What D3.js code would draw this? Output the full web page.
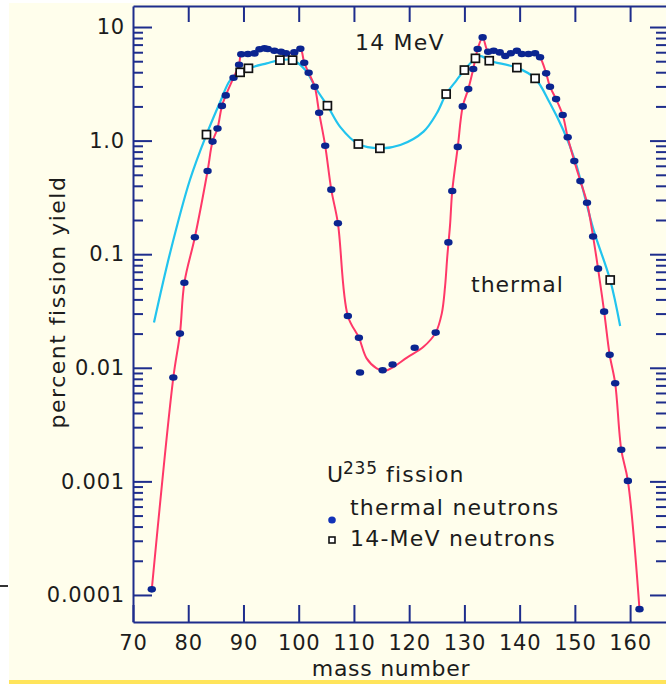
<!DOCTYPE html>
<html><head><meta charset="utf-8">
<script src="https://cdn.jsdelivr.net/npm/d3@7"></script>
<style>
html,body{margin:0;padding:0;background:#fff;}
svg{display:block;}
text{font-family:"DejaVu Sans",sans-serif;fill:#1c1c1c;}
</style></head><body>
<svg id="c" width="666" height="684"></svg>
<script>
// ---- data ----
const thermalMass = [73.4,77.3,78.5,79.3,81.2,83.5,84.4,85.3,86.1,86.8,88.2,89.2,89.6,90.8,92.0,92.9,93.8,94.4,95.6,96.8,97.7,99.2,100.3,101.0,101.8,102.9,103.7,104.8,105.9,107.1,108.9,110.9,111.1,115.2,117.0,121.0,124.8,127.1,127.8,128.8,129.7,130.7,131.6,132.4,133.3,134.3,135.3,136.4,137.4,138.4,139.5,140.4,141.6,142.8,143.7,144.8,145.5,146.6,147.8,148.7,149.9,151.0,152.2,153.3,154.2,155.3,156.3,157.3,158.4,159.6,161.7];
const thermalYield = [1.12e-4,0.0082,0.020,0.056,0.141,0.54,0.98,1.28,2.02,2.5,3.58,4.66,5.75,5.78,5.86,6.37,6.49,6.40,6.18,6.06,5.86,5.98,6.44,4.85,3.96,2.98,1.76,0.90,0.37,0.187,0.0286,0.0184,0.0091,0.0095,0.0107,0.015,0.0204,0.127,0.36,0.88,2.0,2.84,4.27,6.4,8.1,6.06,6.18,5.98,5.56,5.87,6.18,5.78,5.78,5.87,5.41,3.91,2.98,2.32,1.68,1.07,0.66,0.44,0.284,0.143,0.0746,0.0312,0.013,0.0073,0.0019,0.00101,7.5e-5];

const mevMass = [83.3,89.4,90.9,96.6,98.9,105.2,110.8,114.7,126.7,130.0,132.0,134.5,139.5,142.8,156.4];
const mevYield = [1.13,3.99,4.33,5.11,5.11,2.03,0.933,0.855,2.57,4.18,5.3,5.05,4.39,3.53,0.0593];

// fitted curves
const thermalFitMass = [73.4,77.3,78.5,79.3,81.2,83.5,84.4,85.3,86.1,86.8,88.2,89.2,89.6,90.8,92.0,92.9,93.8,94.4,95.6,96.8,97.7,99.2,100.3,101.0,101.8,102.9,103.7,104.8,105.9,107.1,108.9,110.9,112.3,114.1,115.6,117.2,119.6,122.6,124.8,125.9,126.5,126.9,127.4,127.8,128.8,129.7,130.7,131.6,132.4,133.3,134.3,135.3,136.4,137.4,138.4,139.5,140.4,141.6,142.8,143.7,144.8,145.5,146.6,147.8,148.7,149.9,151.0,152.2,153.3,154.2,155.3,156.3,157.3,158.4,159.6,161.7];
const thermalFitYield = [1.12e-4,0.0082,0.020,0.056,0.141,0.54,0.98,1.28,2.02,2.5,3.58,4.66,5.75,5.78,5.86,6.37,6.49,6.40,6.18,6.06,5.86,5.98,6.44,4.85,3.96,2.98,1.76,0.90,0.37,0.187,0.0286,0.0184,0.0121,0.0099,0.0094,0.0102,0.0123,0.0153,0.0204,0.030,0.052,0.095,0.18,0.36,0.88,2.0,2.84,4.27,6.4,8.1,6.06,6.18,5.98,5.56,5.87,6.18,5.78,5.78,5.87,5.41,3.91,2.98,2.32,1.68,1.07,0.66,0.44,0.284,0.143,0.0746,0.0312,0.013,0.0073,0.0019,0.00101,7.5e-5];

const mevFitMass = [73.8,76.7,80.3,83.3,85.8,87.6,89.4,90.9,94.2,96.6,98.9,101.2,103.3,105.2,107.5,110.8,114.7,118.4,122.6,125.0,126.7,128.6,130.0,132.0,133.0,134.5,139.5,142.8,145.5,147.9,150.0,153.4,156.4,158.2];
const mevFitYield = [0.025,0.102,0.45,1.13,2.2,3.41,3.99,4.33,4.79,5.11,5.11,4.18,2.79,2.03,1.32,0.933,0.855,0.914,1.2,1.74,2.57,3.41,4.18,5.3,5.55,5.05,4.39,3.53,2.13,1.24,0.675,0.163,0.059,0.0233];

const xTicks = [70,80,90,100,110,120,130,140,150,160];
const yTicks = [10,1,0.1,0.01,0.001,0.0001];
const yTickLabels = ["10","1.0","0.1","0.01","0.001","0.0001"];

// ---- drawing ----
const svg = d3.select("#c");
const AX = "#1e2d8c";
svg.append("rect").attr("x",9).attr("y",3).attr("width",657).attr("height",677).attr("fill","#fffeec");
svg.append("rect").attr("x",9).attr("y",680).attr("width",657).attr("height",4).attr("fill","#ffe45a");
svg.append("line").attr("x1",0).attr("x2",8).attr("y1",586).attr("y2",586).attr("stroke","#333").attr("stroke-width",2);

const x = d3.scaleLinear().domain([70,166.5]).range([133,666]);
const y = d3.scaleLog().domain([Math.pow(10,-4.238), Math.pow(10,1.185)]).range([622,6]);

const minorVals = [];
for (let e=-4;e<=0;e++) for (let k=2;k<=9;k++) minorVals.push(k*Math.pow(10,e));

function styleAxis(g){
  g.selectAll("path.domain").attr("stroke",AX).attr("stroke-width",2);
  g.selectAll(".tick line").attr("stroke",AX).attr("stroke-width",2);
  g.selectAll(".tick text").attr("fill","#1c1c1c").style("font-family","'DejaVu Sans',sans-serif").style("font-size","21px").style("letter-spacing","0.8px");
}

// bottom
const gB = svg.append("g").attr("transform","translate(0,622)")
  .call(d3.axisBottom(x).tickValues(xTicks).tickSizeInner(-17).tickSizeOuter(0).tickPadding(13).tickFormat(d3.format("d")));
styleAxis(gB);
// top
const gT = svg.append("g").attr("transform","translate(0,6)")
  .call(d3.axisTop(x).tickValues(xTicks.slice(1)).tickSizeInner(-16).tickSizeOuter(0).tickFormat(""));
styleAxis(gT);
// left majors
const gL = svg.append("g").attr("transform","translate(133,0)")
  .call(d3.axisLeft(y).tickValues(yTicks).tickSizeInner(-19).tickSizeOuter(0).tickPadding(8).tickFormat((d,i)=>yTickLabels[i]));
styleAxis(gL);
const gLm = svg.append("g").attr("transform","translate(133,0)")
  .call(d3.axisLeft(y).tickValues(minorVals).tickSizeInner(-10).tickSizeOuter(0).tickFormat(""));
gLm.select("path.domain").remove();
styleAxis(gLm);
// right
const gR = svg.append("g").attr("transform","translate(666,0)")
  .call(d3.axisRight(y).tickValues(yTicks).tickSizeInner(-16).tickSizeOuter(0).tickFormat(""));
gR.select("path.domain").remove();
styleAxis(gR);
const gRm = svg.append("g").attr("transform","translate(666,0)")
  .call(d3.axisRight(y).tickValues(minorVals).tickSizeInner(-10).tickSizeOuter(0).tickFormat(""));
gRm.select("path.domain").remove();
styleAxis(gRm);

// curves
const line = d3.line().x(d=>x(d[0])).y(d=>y(d[1])).curve(d3.curveCatmullRom.alpha(0.5));
svg.append("path").datum(d3.zip(mevFitMass, mevFitYield)).attr("d",line)
  .attr("fill","none").attr("stroke","#22c4ee").attr("stroke-width",2.2);
svg.append("path").datum(d3.zip(thermalFitMass, thermalFitYield)).attr("d",line)
  .attr("fill","none").attr("stroke","#ff3868").attr("stroke-width",2);

// points
svg.append("g").selectAll("ellipse").data(d3.zip(thermalMass, thermalYield)).join("ellipse")
  .attr("cx",d=>x(d[0])).attr("cy",d=>y(d[1])).attr("rx",4.2).attr("ry",3.3).attr("fill","#0b2590");
svg.append("g").selectAll("rect").data(d3.zip(mevMass, mevYield)).join("rect")
  .attr("x",d=>x(d[0])-4).attr("y",d=>y(d[1])-4).attr("width",8).attr("height",8)
  .attr("fill","#fff").attr("stroke","#111").attr("stroke-width",1.7);

// text
const T = (s,xx,yy,opts={})=>{
  const t = svg.append("text").attr("x",xx).attr("y",yy).text(s)
    .style("font-size",(opts.size||22)+"px").style("letter-spacing",(opts.ls!==undefined?opts.ls:1.2)+"px");
  if(opts.anchor) t.attr("text-anchor",opts.anchor);
  return t;
};
T("14 MeV",355,50);
T("thermal",471,292,{ls:1});
T("U",327,482);
T("235",343,474,{size:17,ls:0.8});
T("fission",386,482);
T("thermal neutrons",350,515);
T("14-MeV neutrons",350,546);
svg.append("ellipse").attr("cx",332).attr("cy",520).attr("rx",3.8).attr("ry",3.6).attr("fill","#1232b8");
svg.append("rect").attr("x",329).attr("y",537).attr("width",6).attr("height",6).attr("fill","#fff").attr("stroke","#111").attr("stroke-width",1.6);
T("mass number",391,676,{anchor:"middle",ls:0.7});
svg.append("text").attr("transform","translate(65,302) rotate(-90)").attr("text-anchor","middle")
  .style("font-size","22px").style("letter-spacing","1.5px").text("percent fission yield");
</script>
</body></html>
